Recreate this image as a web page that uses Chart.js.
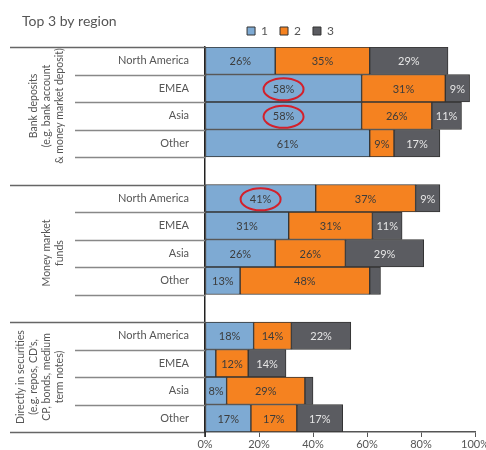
<!DOCTYPE html>
<html>
<head>
<meta charset="utf-8">
<script src="https://cdn.jsdelivr.net/npm/chart.js@4"></script>
<style>
  html, body { margin: 0; padding: 0; background: #fff; }
  #wrap { width: 486px; height: 450px; }
</style>
</head>
<body>
<div id="wrap"><canvas id="regionChart"></canvas></div>
<script>
// categories (blank rows separate the three groups)
const rows = ['North America', 'EMEA', 'Asia', 'Other', '',
              'North America', 'EMEA', 'Asia', 'Other', '',
              'North America', 'EMEA', 'Asia', 'Other'];
const rank1 = [26, 58, 58, 61, null, 41, 31, 26, 13, null, 18, 4, 8, 17];
const rank2 = [35, 31, 26, 9, null, 37, 31, 26, 48, null, 14, 12, 29, 17];
const rank3 = [29, 9, 11, 17, null, 9, 11, 29, 4, null, 22, 14, 3, 17];
const xTicks = [0, 20, 40, 60, 80, 100];
const groups = [
  ['Bank deposits', '(e.g. bank account', '& money market deposit)'],
  ['Money market', 'funds'],
  ['Directly in securities', '(e.g. repos, CD\'s,', 'CP, bonds, medium', 'term notes)']
];
// rows whose rank-1 label gets circled
const circled = [1, 2, 5];

const FONT = 'Lato, "Open Sans", sans-serif';
const TXT = '#555';

// percentages inside bars + red circles
const barLabels = {
  id: 'barLabels',
  afterDatasetsDraw(chart) {
    const ctx = chart.ctx;
    ctx.save();
    ctx.font = '11px ' + FONT;
    ctx.textAlign = 'center';
    ctx.textBaseline = 'middle';
    chart.data.datasets.forEach((ds, di) => {
      chart.getDatasetMeta(di).data.forEach((bar, i) => {
        const v = ds.data[i];
        if (v == null || v < 5) return;
        const cx = (bar.x + bar.base) / 2;
        ctx.fillStyle = di === 2 ? '#e6e6e6' : '#3c3c3c';
        ctx.fillText(v + '%', cx, bar.y + 1);
        if (di === 0 && circled.includes(i)) {
          ctx.strokeStyle = '#d3202b';
          ctx.lineWidth = 2;
          ctx.beginPath();
          ctx.ellipse(cx, bar.y + 1, 20, 11, 0, 0, Math.PI * 2);
          ctx.stroke();
        }
      });
    });
    ctx.restore();
  }
};

// row separators, group labels and the title
const frame = {
  id: 'frame',
  afterDraw(chart) {
    const ctx = chart.ctx;
    const y = chart.scales.y;
    const left = chart.chartArea.left;
    const step = y.getPixelForValue(1) - y.getPixelForValue(0);
    ctx.save();
    ctx.lineWidth = 1.5;
    for (let i = 0; i <= rows.length; i++) {
      const py = Math.round(y.getPixelForValue(0) - step / 2 + i * step) + 0.5;
      const major = i === 0 || i === 5 || i === 10 || i === rows.length;
      ctx.strokeStyle = major ? '#666' : '#888';
      ctx.beginPath();
      ctx.moveTo(major ? 10 : 75, py);
      ctx.lineTo(left, py);
      ctx.stroke();
    }
    // axis line runs a little past the bottom
    ctx.strokeStyle = '#222';
    ctx.beginPath();
    ctx.moveTo(left, chart.chartArea.bottom);
    ctx.lineTo(left, chart.chartArea.bottom + 5);
    ctx.stroke();

    ctx.fillStyle = TXT;
    ctx.font = '10.5px ' + FONT;
    ctx.textAlign = 'center';
    ctx.textBaseline = 'middle';
    const centers = [106, 253, 377];
    groups.forEach((lines, g) => {
      ctx.save();
      ctx.translate(60 - (lines.length - 1) * 13, centers[g]);
      ctx.rotate(-Math.PI / 2);
      lines.forEach((t, k) => ctx.fillText(t, 0, k * 13));
      ctx.restore();
    });
    ctx.font = '14px ' + FONT;
    ctx.textAlign = 'left';
    ctx.fillText('Top 3 by region', 22, 21);
    ctx.restore();
  }
};

new Chart(document.getElementById('regionChart'), {
  type: 'bar',
  data: {
    labels: rows,
    datasets: [
      { label: '1', data: rank1, backgroundColor: '#7eaad3' },
      { label: '2', data: rank2, backgroundColor: '#f58220' },
      { label: '3', data: rank3, backgroundColor: '#5b5c61' }
    ].map(d => Object.assign(d, {
      borderColor: '#333', borderWidth: 1, borderSkipped: false,
      barPercentage: 1, categoryPercentage: 1
    }))
  },
  options: {
    indexAxis: 'y',
    responsive: true,
    maintainAspectRatio: false,
    animation: false,
    layout: { padding: { left: 95, right: 0, top: 13, bottom: 0 } },
    plugins: {
      legend: {
        position: 'top',
        labels: {
          boxWidth: 8, boxHeight: 8, padding: 12, color: TXT,
          font: { family: FONT, size: 12 }
        }
      },
      tooltip: { enabled: false }
    },
    scales: {
      x: {
        stacked: true,
        min: 0, max: 100,
        afterBuildTicks: s => { s.ticks = xTicks.map(v => ({ value: v })); },
        afterFit: s => { s.height = 18; s.paddingRight = 11; },
        grid: { drawOnChartArea: false, drawTicks: true, tickLength: 5, color: '#555' },
        border: { color: '#555', width: 1.5 },
        ticks: { color: TXT, padding: 1, font: { family: FONT, size: 11 }, callback: v => v + '%' }
      },
      y: {
        stacked: true,
        afterFit: s => { s.width = 110; },
        grid: { display: false },
        border: { color: '#222', width: 1.5 },
        ticks: { color: TXT, padding: 8, font: { family: FONT, size: 11 } }
      }
    }
  },
  plugins: [barLabels, frame]
});
</script>
</body>
</html>
